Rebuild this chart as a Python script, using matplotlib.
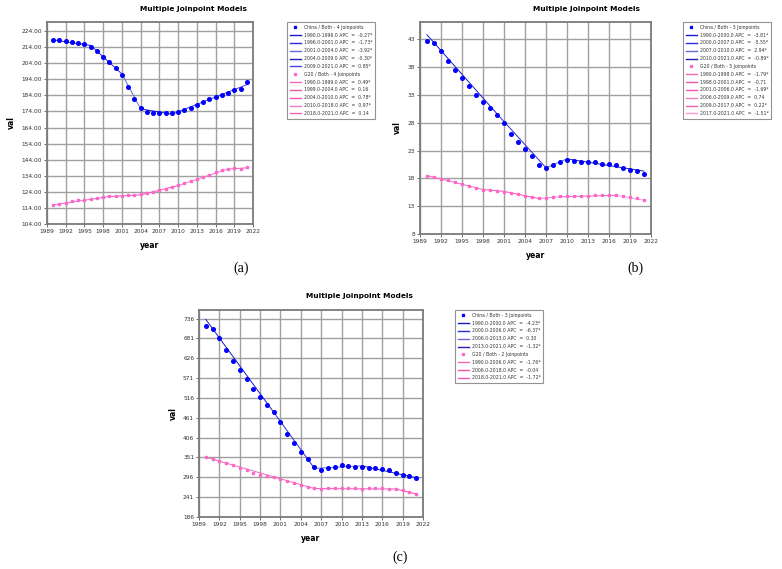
import numpy as np
import matplotlib.pyplot as plt
from matplotlib.lines import Line2D
from matplotlib.ticker import FormatStrFormatter

years = np.arange(1990, 2022)

# (a) observed values
china_a = [218.2, 218.2, 217.8, 217.2, 216.5, 215.7, 214.0, 211.4, 208.0, 204.7, 201.0, 196.4,
           189.2, 181.9, 176.1, 173.4, 173.2, 172.8, 172.8, 172.8, 173.6, 174.9, 176.3, 178.2,
           180.0, 181.7, 183.0, 184.2, 185.6, 187.1, 187.9, 192.3]
g20_a = [115.8, 116.4, 117.2, 118.1, 118.7, 119.1, 119.5, 119.9, 120.8, 121.2, 121.4, 121.6,
         121.8, 122.0, 122.4, 123.0, 123.9, 124.9, 125.9, 127.0, 128.2, 129.5, 130.5, 131.8,
         133.2, 134.7, 136.1, 137.3, 138.4, 139.0, 138.2, 139.6]
# (a) joinpoint fits
china_a_jp = [1990, 1996, 2001, 2004, 2009, 2021]
china_a_fit = [218.5, 215.0, 197.3, 175.6, 172.3, 190.6]
g20_a_jp = [1990, 1999, 2004, 2010, 2018, 2021]
g20_a_fit = [115.9, 121.1, 122.1, 127.9, 138.2, 138.9]
china_a_lab = ["1990.0-1996.0 APC  =  -0.27*", "1996.0-2001.0 APC  =  -1.73*",
               "2001.0-2004.0 APC  =  -3.92*", "2004.0-2009.0 APC  =  -0.30*",
               "2009.0-2021.0 APC  =  0.85*"]
g20_a_lab = ["1990.0-1999.0 APC  =  0.49*", "1999.0-2004.0 APC  =  0.16",
             "2004.0-2010.0 APC  =  0.78*", "2010.0-2018.0 APC  =  0.97*",
             "2018.0-2021.0 APC  =  0.14"]

# (b)
china_b = [42.70, 42.28, 40.84, 39.16, 37.42, 36.04, 34.54, 33.04, 31.71, 30.57, 29.43, 27.93,
           26.01, 24.57, 23.25, 22.05, 20.37, 19.89, 20.49, 20.91, 21.33, 21.15, 20.85, 20.85,
           20.85, 20.67, 20.67, 20.43, 19.89, 19.53, 19.29, 18.87]
g20_b = [18.51, 18.27, 17.97, 17.67, 17.31, 16.95, 16.65, 16.29, 15.99, 15.87, 15.81, 15.63,
         15.45, 15.27, 14.91, 14.73, 14.49, 14.55, 14.67, 14.79, 14.85, 14.85, 14.85, 14.91,
         14.97, 15.03, 15.03, 15.03, 14.85, 14.61, 14.43, 14.07]
china_b_jp = [1990, 2000, 2007, 2010, 2021]
china_b_fit = [43.8, 29.6, 19.9, 21.5, 19.3]
g20_b_jp = [1990, 1998, 2001, 2006, 2009, 2017, 2021]
g20_b_fit = [18.5, 16.0, 15.66, 14.37, 14.69, 14.95, 14.06]
china_b_lab = ["1990.0-2000.0 APC  =  -3.81*", "2000.0-2007.0 APC  =  -5.55*",
               "2007.0-2010.0 APC  =  2.94*", "2010.0-2021.0 APC  =  -0.89*"]
g20_b_lab = ["1990.0-1998.0 APC  =  -1.79*", "1998.0-2001.0 APC  =  -0.71",
             "2001.0-2006.0 APC  =  -1.69*", "2006.0-2009.0 APC  =  0.74",
             "2009.0-2017.0 APC  =  0.22*", "2017.0-2021.0 APC  =  -1.51*"]

# (c)
china_c = [714.8, 706.5, 681.6, 650.3, 619.0, 594.1, 567.4, 539.8, 517.6, 496.5, 476.2, 448.6,
           417.2, 391.4, 366.6, 346.3, 324.2, 315.0, 322.3, 326.0, 329.7, 327.9, 324.2, 324.2,
           322.3, 320.5, 319.6, 315.0, 308.5, 303.0, 298.4, 292.9]
g20_c = [351.8, 348.1, 342.6, 336.2, 329.7, 322.3, 315.0, 308.5, 303.0, 299.3, 295.6, 291.0,
         286.4, 280.9, 274.4, 269.8, 265.2, 264.3, 265.2, 266.1, 266.1, 265.2, 265.2, 264.3,
         265.2, 265.2, 265.2, 264.3, 262.5, 259.7, 256.0, 250.5]
china_c_jp = [1990, 2000, 2006, 2013, 2021]
china_c_fit = [734.0, 476.6, 321.0, 327.8, 294.8]
g20_c_jp = [1990, 2006, 2018, 2021]
g20_c_fit = [351.8, 264.8, 263.5, 250.1]
china_c_lab = ["1990.0-2000.0 APC  =  -4.23*", "2000.0-2006.0 APC  =  -6.37*",
               "2006.0-2013.0 APC  =  0.30", "2013.0-2021.0 APC  =  -1.32*"]
g20_c_lab = ["1990.0-2006.0 APC  =  -1.76*", "2006.0-2018.0 APC  =  -0.04",
             "2018.0-2021.0 APC  =  -1.72*"]

blues = ["#1a1acc", "#2b2bd9", "#6a6ad8", "#1f1fb8", "#4545e0", "#3030cc"]
pinks = ["#f06ab8", "#e85aa8", "#ff4fb0", "#f07cc4", "#ee62b5", "#f59ad0"]


def panel(ax, china, g20, cjp, cfit, gjp, gfit, clab, glab, ncj, ngj,
          yticks, ylim, fmt, leg_box):
    ax.set_facecolor("white")
    ax.grid(True, color="#a0a0a0", lw=1.0)
    ax.set_axisbelow(True)
    for i in range(len(cjp) - 1):
        ax.plot(cjp[i:i + 2], cfit[i:i + 2], color=blues[i], lw=0.7)
    for i in range(len(gjp) - 1):
        ax.plot(gjp[i:i + 2], gfit[i:i + 2], color=pinks[i], lw=0.7)
    ax.plot(years, china, "o", color="#0000ff", ms=2.6, mec="#0000ff")
    ax.plot(years, g20, "s", color="#ff66cc", ms=1.7, mec="#ff66cc")
    ax.set_xlim(1989, 2022)
    ax.set_xticks(np.arange(1989, 2023, 3))
    ax.set_yticks(yticks)
    ax.set_ylim(*ylim)
    ax.yaxis.set_major_formatter(FormatStrFormatter(fmt))
    ax.tick_params(labelsize=4.2, length=2, width=0.5, pad=1.5, colors="#333333")
    for s in ax.spines.values():
        s.set_color("#7a7a7a")
        s.set_linewidth(1.3)
    ax.set_xlabel("year", fontsize=5.5, fontweight="bold", labelpad=5)
    ax.set_ylabel("val", fontsize=5.5, fontweight="bold", labelpad=4)

    handles = [Line2D([], [], ls="none", marker="s", ms=1.4, color="#0000ff")]
    labels = ["China / Both - %d Joinpoints" % ncj]
    for i, l in enumerate(clab):
        handles.append(Line2D([], [], color=blues[i], lw=1.0))
        labels.append(l)
    handles.append(Line2D([], [], ls="none", marker="s", ms=1.4, color="#ff66cc"))
    labels.append("G20 / Both - %d Joinpoints" % ngj)
    for i, l in enumerate(glab):
        handles.append(Line2D([], [], color=pinks[i], lw=1.0))
        labels.append(l)
    x0, y0 = leg_box
    leg = fig.legend(handles, labels, loc="upper left",
                     bbox_to_anchor=(x0 / 782, 1 - y0 / 569),
                     fontsize=3.3, frameon=True, fancybox=False,
                     handlelength=2.5, handletextpad=0.5, labelspacing=0.62,
                     borderpad=0.6, borderaxespad=0)
    leg.get_frame().set_edgecolor("#777777")
    leg.get_frame().set_linewidth(0.8)
    for t in leg.get_texts():
        t.set_color("#333333")


fig = plt.figure(figsize=(7.82, 5.69), dpi=100)

ax_a = fig.add_axes([47 / 782, 1 - 224 / 569, 206 / 782, 202 / 569])
panel(ax_a, china_a, g20_a, china_a_jp, china_a_fit, g20_a_jp, g20_a_fit,
      china_a_lab, g20_a_lab, 4, 4, np.arange(104, 225, 10), (104, 229.6), "%.2f", (287, 22))

ax_b = fig.add_axes([420 / 782, 1 - 234 / 569, 231 / 782, 212 / 569])
panel(ax_b, china_b, g20_b, china_b_jp, china_b_fit, g20_b_jp, g20_b_fit,
      china_b_lab, g20_b_lab, 3, 5, np.arange(8, 44, 5), (8, 46.1), "%d", (683, 22))

ax_c = fig.add_axes([199 / 782, 1 - 517 / 569, 224 / 782, 207 / 569])
panel(ax_c, china_c, g20_c, china_c_jp, china_c_fit, g20_c_jp, g20_c_fit,
      china_c_lab, g20_c_lab, 3, 2, np.arange(186, 737, 55), (186, 760), "%d", (455, 310))

for x, y, t in [(193, 9, "Multiple Joinpoint Models"), (586, 9, "Multiple Joinpoint Models"),
                (359, 296, "Multiple Joinpoint Models")]:
    fig.text(x / 782, 1 - y / 569, t, ha="center", va="center", fontsize=5.3, fontweight="bold")

for x, y, t in [(241, 268, "(a)"), (635, 268, "(b)"), (400, 557, "(c)")]:
    fig.text(x / 782, 1 - y / 569, t, ha="center", va="center", fontsize=10,
             family="Liberation Serif")

fig.savefig("out.png", dpi=100)
